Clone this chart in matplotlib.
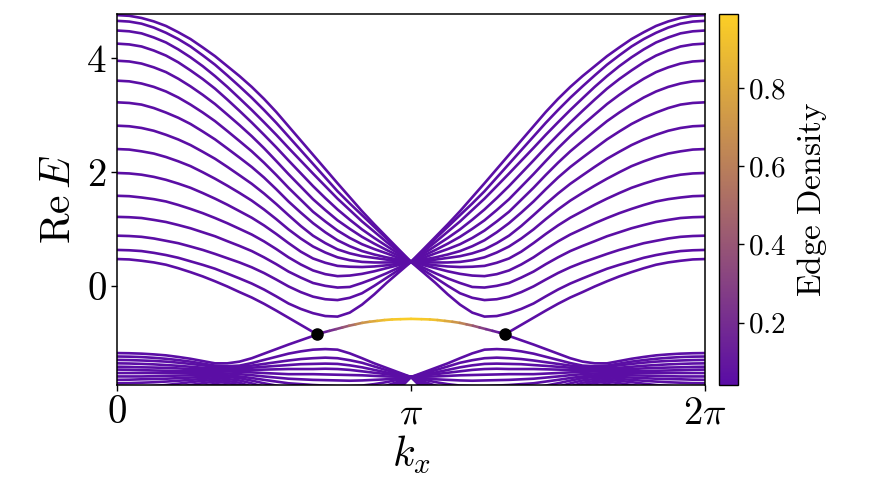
import numpy as np
import matplotlib
matplotlib.use("Agg")
import matplotlib.pyplot as plt
from matplotlib.collections import LineCollection
from matplotlib.colors import LinearSegmentedColormap, Normalize
from matplotlib.cm import ScalarMappable

plt.rcParams['mathtext.fontset'] = 'cm'
plt.rcParams['font.family'] = 'serif'
plt.rcParams['font.serif'] = ['cmr10', 'DejaVu Serif']
plt.rcParams['axes.formatter.use_mathtext'] = True

# k positions on [0, pi] in steps of pi/24; the right half mirrors the left
k_half = np.arange(25) * np.pi / 24

# upper bulk bands meeting at (pi, 0.42)
upper_bands = [
    [0.63, 0.624, 0.61, 0.579, 0.54, 0.492, 0.43, 0.368, 0.30, 0.216, 0.13, 0.04, -0.065, -0.185, -0.31, -0.405, -0.48, -0.53, -0.54, -0.47, -0.33, -0.15, 0.05, 0.235, 0.42],
    [0.88, 0.874, 0.86, 0.831, 0.79, 0.748, 0.69, 0.630, 0.56, 0.485, 0.41, 0.325, 0.225, 0.11, -0.01, -0.11, -0.19, -0.235, -0.25, -0.21, -0.13, 0.00, 0.14, 0.28, 0.42],
    [1.21, 1.204, 1.19, 1.157, 1.12, 1.067, 1.01, 0.940, 0.87, 0.784, 0.70, 0.61, 0.50, 0.38, 0.25, 0.145, 0.05, 0.00, -0.03, -0.02, 0.05, 0.13, 0.22, 0.32, 0.42],
    [1.58, 1.573, 1.55, 1.521, 1.48, 1.419, 1.35, 1.275, 1.19, 1.099, 1.00, 0.90, 0.78, 0.645, 0.50, 0.375, 0.27, 0.205, 0.17, 0.18, 0.21, 0.255, 0.31, 0.365, 0.42],
    [1.98, 1.972, 1.95, 1.912, 1.86, 1.794, 1.72, 1.628, 1.53, 1.424, 1.31, 1.195, 1.06, 0.91, 0.75, 0.60, 0.48, 0.405, 0.35, 0.335, 0.33, 0.34, 0.36, 0.39, 0.42],
    [2.40, 2.391, 2.36, 2.321, 2.26, 2.185, 2.10, 1.993, 1.88, 1.758, 1.63, 1.495, 1.34, 1.17, 0.99, 0.83, 0.69, 0.585, 0.50, 0.45, 0.42, 0.41, 0.41, 0.415, 0.42],
    [2.81, 2.800, 2.77, 2.721, 2.65, 2.568, 2.47, 2.352, 2.23, 2.088, 1.94, 1.79, 1.62, 1.435, 1.24, 1.05, 0.88, 0.75, 0.64, 0.57, 0.52, 0.49, 0.46, 0.44, 0.42],
    [3.22, 3.209, 3.18, 3.120, 3.04, 2.949, 2.84, 2.708, 2.57, 2.411, 2.25, 2.085, 1.90, 1.695, 1.48, 1.285, 1.10, 0.94, 0.80, 0.695, 0.61, 0.55, 0.50, 0.46, 0.42],
    [3.60, 3.588, 3.55, 3.491, 3.41, 3.305, 3.18, 3.041, 2.89, 2.717, 2.54, 2.36, 2.16, 1.945, 1.72, 1.51, 1.30, 1.13, 0.97, 0.84, 0.73, 0.645, 0.57, 0.49, 0.42],
    [3.95, 3.937, 3.90, 3.834, 3.75, 3.634, 3.50, 3.351, 3.19, 3.006, 2.82, 2.625, 2.415, 2.19, 1.96, 1.74, 1.52, 1.33, 1.15, 1.00, 0.86, 0.74, 0.63, 0.525, 0.42],
    [4.25, 4.236, 4.20, 4.129, 4.04, 3.922, 3.78, 3.628, 3.46, 3.269, 3.07, 2.865, 2.65, 2.43, 2.20, 1.975, 1.75, 1.54, 1.34, 1.16, 0.99, 0.84, 0.70, 0.56, 0.42],
    [4.48, 4.466, 4.43, 4.358, 4.27, 4.149, 4.01, 3.854, 3.68, 3.492, 3.29, 3.085, 2.87, 2.65, 2.42, 2.195, 1.97, 1.75, 1.53, 1.33, 1.13, 0.95, 0.77, 0.595, 0.42],
    [4.65, 4.637, 4.60, 4.532, 4.44, 4.330, 4.20, 4.044, 3.88, 3.693, 3.50, 3.30, 3.085, 2.86, 2.62, 2.38, 2.14, 1.90, 1.66, 1.445, 1.24, 1.035, 0.83, 0.625, 0.42],
    [4.75, 4.738, 4.70, 4.640, 4.56, 4.450, 4.33, 4.183, 4.03, 3.855, 3.68, 3.49, 3.28, 3.05, 2.80, 2.55, 2.30, 2.05, 1.80, 1.555, 1.31, 1.08, 0.86, 0.64, 0.42],
]

# lower bulk bands meeting at (pi, -1.60)
lower_bands = [
    [-1.24, -1.243, -1.25, -1.263, -1.28, -1.303, -1.33, -1.365, -1.40, -1.41, -1.40, -1.355, -1.30, -1.245, -1.19, -1.15, -1.12, -1.11, -1.12, -1.185, -1.27, -1.36, -1.44, -1.52, -1.60],
    [-1.30, -1.303, -1.31, -1.318, -1.33, -1.348, -1.37, -1.395, -1.42, -1.43, -1.42, -1.40, -1.37, -1.34, -1.31, -1.285, -1.27, -1.26, -1.27, -1.305, -1.35, -1.415, -1.48, -1.54, -1.60],
    [-1.36, -1.363, -1.37, -1.378, -1.39, -1.403, -1.42, -1.437, -1.45, -1.455, -1.45, -1.437, -1.42, -1.405, -1.39, -1.375, -1.37, -1.365, -1.37, -1.395, -1.43, -1.475, -1.52, -1.56, -1.60],
    [-1.42, -1.423, -1.43, -1.434, -1.44, -1.449, -1.46, -1.466, -1.47, -1.476, -1.48, -1.477, -1.47, -1.465, -1.46, -1.46, -1.46, -1.455, -1.46, -1.475, -1.50, -1.525, -1.55, -1.575, -1.60],
    [-1.47, -1.473, -1.48, -1.485, -1.49, -1.496, -1.50, -1.50, -1.50, -1.503, -1.51, -1.519, -1.53, -1.54, -1.55, -1.55, -1.55, -1.555, -1.56, -1.565, -1.57, -1.58, -1.59, -1.595, -1.60],
    [-1.53, -1.53, -1.53, -1.53, -1.53, -1.53, -1.53, -1.53, -1.53, -1.538, -1.55, -1.568, -1.59, -1.61, -1.63, -1.64, -1.65, -1.655, -1.66, -1.665, -1.66, -1.65, -1.64, -1.62, -1.60],
    [-1.59, -1.59, -1.59, -1.586, -1.58, -1.575, -1.57, -1.563, -1.56, -1.57, -1.59, -1.618, -1.65, -1.68, -1.71, -1.725, -1.74, -1.75, -1.76, -1.76, -1.75, -1.725, -1.69, -1.645, -1.60],
    [-1.65, -1.647, -1.64, -1.636, -1.63, -1.62, -1.61, -1.598, -1.59, -1.60, -1.62, -1.663, -1.71, -1.75, -1.79, -1.82, -1.84, -1.855, -1.86, -1.855, -1.84, -1.80, -1.75, -1.68, -1.60],
    [-1.71, -1.707, -1.70, -1.692, -1.68, -1.666, -1.65, -1.633, -1.62, -1.635, -1.66, -1.712, -1.77, -1.82, -1.87, -1.91, -1.94, -1.96, -1.97, -1.96, -1.94, -1.88, -1.81, -1.71, -1.60],
    [-1.78, -1.777, -1.77, -1.757, -1.74, -1.717, -1.69, -1.667, -1.65, -1.67, -1.70, -1.768, -1.84, -1.90, -1.96, -2.01, -2.05, -2.07, -2.08, -2.065, -2.04, -1.96, -1.87, -1.74, -1.60],
    [-1.86, -1.853, -1.84, -1.822, -1.80, -1.772, -1.74, -1.708, -1.68, -1.705, -1.74, -1.82, -1.91, -1.99, -2.06, -2.115, -2.16, -2.185, -2.20, -2.18, -2.15, -2.05, -1.94, -1.78, -1.60],
    [-1.95, -1.943, -1.93, -1.907, -1.88, -1.843, -1.80, -1.758, -1.72, -1.75, -1.79, -1.885, -1.99, -2.08, -2.17, -2.23, -2.28, -2.305, -2.32, -2.30, -2.27, -2.15, -2.02, -1.82, -1.60],
]

# the two bands that coalesce at the exceptional point (first 17 k positions)
ep_k = 2.134
ep_E = -0.85
upper_ep_band = [0.47, 0.463, 0.44, 0.411, 0.37, 0.309, 0.24, 0.165, 0.08, -0.011, -0.11, -0.205, -0.315, -0.435, -0.56, -0.685, -0.81]
lower_ep_band = [-1.18, -1.183, -1.19, -1.203, -1.22, -1.248, -1.28, -1.32, -1.36, -1.36, -1.33, -1.27, -1.19, -1.11, -1.03, -0.955, -0.88]

# edge arc between the exceptional point and pi
arc_k = [2.134, 2.20, 2.27, 2.34, 2.41, 2.48, 2.55, 2.62, 2.70, 2.78, 2.86, 2.94, 3.03, np.pi]
arc_E = [-0.85, -0.82, -0.79, -0.76, -0.73, -0.70, -0.675, -0.65, -0.63, -0.615, -0.60, -0.59, -0.585, -0.58]
arc_density = [0.05, 0.10, 0.17, 0.25, 0.35, 0.45, 0.57, 0.67, 0.76, 0.84, 0.90, 0.94, 0.97, 0.98]

bulk_density = 0.05


def mirror(k, v):
    k = np.asarray(k, dtype=float)
    v = np.asarray(v, dtype=float)
    return (np.concatenate([k, 2 * np.pi - k[-2::-1]]),
            np.concatenate([v, v[-2::-1]]))


cmap = LinearSegmentedColormap.from_list('edge', ['#5a0ca6', '#fccf25'])
norm = Normalize(vmin=0.04, vmax=0.99)
bulk_color = cmap(norm(bulk_density))

fig = plt.figure(figsize=(8.72, 4.91), dpi=100)
ax = fig.add_axes([0.1342, 0.2159, 0.6743, 0.7556])
cax = fig.add_axes([0.8245, 0.2159, 0.0218, 0.7556])

lw = 1.9
for band in upper_bands + lower_bands:
    kk, ee = mirror(k_half, band)
    ax.plot(kk, ee, color=bulk_color, lw=lw)

# bands ending at the exceptional points (left and right copies)
for band in (upper_ep_band, lower_ep_band):
    kk = np.append(k_half[:len(band)], ep_k)
    ee = np.append(band, ep_E)
    ax.plot(kk, ee, color=bulk_color, lw=lw)
    ax.plot(2 * np.pi - kk, ee, color=bulk_color, lw=lw)

# edge state arc coloured by edge density
ak, ae = mirror(arc_k, arc_E)
_, ad = mirror(arc_k, arc_density)
pts = np.column_stack([ak, ae])
segs = np.stack([pts[:-1], pts[1:]], axis=1)
lc = LineCollection(segs, cmap=cmap, norm=norm, linewidths=lw, capstyle='round')
lc.set_array(0.5 * (ad[:-1] + ad[1:]))
ax.add_collection(lc)

ax.plot([ep_k, 2 * np.pi - ep_k], [ep_E, ep_E], 'o', color='k', ms=8, zorder=5)

ax.set_xlim(0, 2 * np.pi)
ax.set_ylim(-1.74, 4.77)
ax.set_xticks([0, np.pi, 2 * np.pi])
ax.set_xticklabels(['$0$', r'$\pi$', r'$2\pi$'])
ax.set_yticks([0, 2, 4])
ax.set_yticklabels(['$0$', '$2$', '$4$'])
ax.tick_params(labelsize=28, length=4, width=1)
for s in ax.spines.values():
    s.set_linewidth(1.1)
ax.set_xlabel(r'$k_x$', fontsize=30, labelpad=2)
ax.set_ylabel(r'$\mathrm{Re}\,E$', fontsize=30, labelpad=6)

sm = ScalarMappable(cmap=cmap, norm=norm)
cb = fig.colorbar(sm, cax=cax, ticks=[0.2, 0.4, 0.6, 0.8])
cb.ax.set_yticklabels(['$0.2$', '$0.4$', '$0.6$', '$0.8$'])
cb.ax.tick_params(labelsize=21, length=4, width=1)
cb.outline.set_linewidth(1.0)
cb.set_label(r'$\mathrm{Edge\ Density}$', fontsize=24, labelpad=6)

fig.savefig('out.png', dpi=100)
